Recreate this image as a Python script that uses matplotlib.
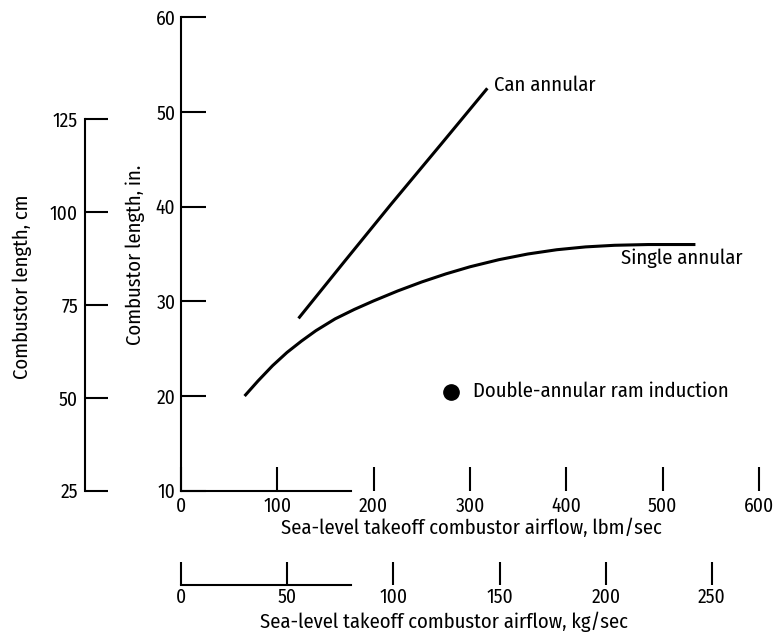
import numpy as np
import matplotlib.pyplot as plt

plt.rcParams['font.family'] = ['Fira Sans Condensed', 'DejaVu Sans']

# data (airflow in lbm/sec, length in inches)
can_x = [122, 170, 218, 270, 318]
can_y = [28.2, 34.25, 40.25, 46.6, 52.5]
single_x = [66, 80, 95, 110, 125, 140, 160, 180, 200, 225, 250, 275, 300, 330, 360, 390, 420, 450, 485, 534]
single_y = [20.0, 21.6, 23.2, 24.6, 25.8, 26.9, 28.15, 29.15, 30.05, 31.1, 32.05, 32.9, 33.65, 34.4, 35.0, 35.45, 35.75, 35.92, 36.0, 36.0]
ram_x = [280]
ram_y = [20.45]

in_ticks = [10, 20, 30, 40, 50, 60]
cm_ticks = [25, 50, 75, 100, 125]
lbm_ticks = [0, 100, 200, 300, 400, 500, 600]
kg_ticks = [0, 50, 100, 150, 200, 250]

W, H = 777, 638
fig = plt.figure(figsize=(W/100, H/100), dpi=100)

def fx(px): return px/W
def fy(py): return 1 - py/H

fs = 14.8   # labels and annotations
fst = 14    # tick labels
lw_ax = 1.5

# main axes
left, right, top, bot = 181, 759, 17.3, 490.7
ax = fig.add_axes([fx(left), fy(bot), fx(right-left), fy(top)-fy(bot)])
ax.set_xlim(0, 600)
ax.set_ylim(10, 60)
for s in ['top', 'right']:
	ax.spines[s].set_visible(False)
ax.spines['left'].set_linewidth(lw_ax)
ax.spines['bottom'].set_linewidth(lw_ax)
ax.spines['bottom'].set_bounds(0, 176)
ax.set_yticks(in_ticks)
ax.set_xticks(lbm_ticks)
ax.tick_params(axis='y', direction='in', length=18, width=lw_ax, labelsize=fst, pad=4)
ax.tick_params(axis='x', direction='in', length=17, width=lw_ax, labelsize=fst, pad=4)
ax.patch.set_alpha(0)

ax.plot(can_x, can_y, color='k', lw=2.2, solid_capstyle='butt')
ax.plot(single_x, single_y, color='k', lw=2.2, solid_capstyle='butt', solid_joinstyle='round')
ax.plot(ram_x, ram_y, 'o', color='k', markersize=11)

ax.text(325, 52.85, 'Can annular', fontsize=fs, ha='left', va='center')
ax.text(457, 34.6, 'Single annular', fontsize=fs, ha='left', va='center')
ax.text(303, 20.5, 'Double-annular ram induction', fontsize=fs, ha='left', va='center')

# cm axis
axc = fig.add_axes([fx(85), fy(bot), 0.05, fy(top)-fy(bot)])
axc.set_ylim(10*2.54, 60*2.54)
for s in ['top', 'right', 'bottom']:
	axc.spines[s].set_visible(False)
axc.spines['left'].set_linewidth(lw_ax)
axc.spines['left'].set_bounds(25, 125)
axc.set_yticks(cm_ticks)
axc.set_xticks([])
axc.tick_params(axis='y', direction='in', length=16.5, width=lw_ax, labelsize=fst, pad=5)
axc.patch.set_alpha(0)

# kg axis
axk = fig.add_axes([fx(left), fy(585), fx(right-left), 0.05])
axk.set_xlim(0, 600/2.20462)
for s in ['top', 'right', 'left']:
	axk.spines[s].set_visible(False)
axk.spines['bottom'].set_linewidth(lw_ax)
axk.spines['bottom'].set_bounds(0, 80)
axk.set_xticks(kg_ticks)
axk.set_yticks([])
axk.tick_params(axis='x', direction='in', length=16.5, width=lw_ax, labelsize=fst, pad=2)
axk.patch.set_alpha(0)

# axis titles
fig.text(fx(22), fy(287), 'Combustor length, cm', rotation=90, ha='center', va='center', fontsize=fs)
fig.text(fx(135), fy(255), 'Combustor length, in.', rotation=90, ha='center', va='center', fontsize=fs)
fig.text(fx(471), fy(528), 'Sea-level takeoff combustor airflow, lbm/sec', ha='center', va='center', fontsize=fs)
fig.text(fx(444), fy(622), 'Sea-level takeoff combustor airflow, kg/sec', ha='center', va='center', fontsize=fs)

fig.savefig('out.png', dpi=100)
